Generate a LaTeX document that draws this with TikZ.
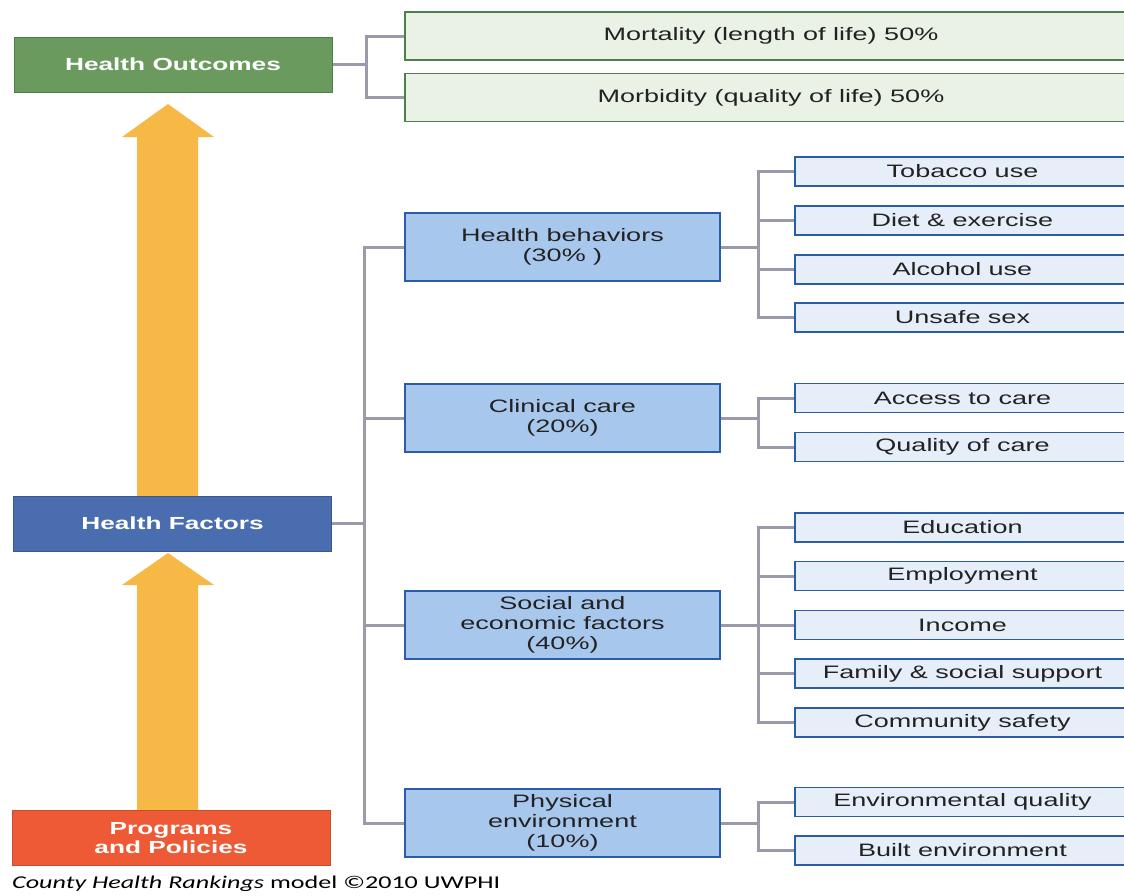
\documentclass[tikz,border=0pt]{standalone}
\usepackage{fontspec}
\setmainfont{Liberation Sans}[FakeStretch=1.5]
\newfontfamily\capfont{Carlito}[FakeStretch=1.45]
\definecolor{hogreen}{HTML}{6A9A5E}
\definecolor{hogreenline}{HTML}{4E7E4C}
\definecolor{lgfill}{HTML}{EAF2E6}
\definecolor{hfblue}{HTML}{4A6DB0}
\definecolor{ppred}{HTML}{EE5A35}
\definecolor{arrowyel}{HTML}{F6B946}
\definecolor{ltwofill}{HTML}{A8C7EC}
\definecolor{bluline}{HTML}{2B5CA8}
\definecolor{lthreefill}{HTML}{E6EEFA}
\definecolor{conngray}{HTML}{9A9AAA}
\definecolor{txt}{HTML}{222222}
\tikzset{
  x=1pt, y=-1pt,
  base/.style={rectangle, inner sep=0pt, align=center, font=\fontsize{18}{20}\selectfont},
  lone/.style={base, text=white, font=\fontsize{17.5}{20}\selectfont\bfseries, minimum width=318pt, minimum height=55pt},
  ltwo/.style={base, fill=ltwofill, draw=bluline, line width=1.6pt, text=txt, minimum width=315pt, minimum height=68pt},
  lthree/.style={base, fill=lthreefill, draw=bluline, line width=1.6pt, text=txt, minimum width=335pt, minimum height=29pt},
  lgreen/.style={base, fill=lgfill, draw=hogreenline, line width=1.4pt, text=txt, minimum width=732pt, minimum height=48pt},
  conn/.style={draw=conngray, line width=3pt},
  bigarrow/.style={fill=arrowyel, draw=none}
}
\begin{document}
\begin{tikzpicture}
\useasboundingbox (0,0) rectangle (1124,895);
% arrows
\fill[bigarrow] (168,104) -- (214,137) -- (198,137) -- (198,500) -- (137,500) -- (137,137) -- (122,137) -- cycle;
\fill[bigarrow] (168,553) -- (214,585) -- (198,585) -- (198,812) -- (137,812) -- (137,585) -- (122,585) -- cycle;
% level 1
\node[lone, fill=hogreen, draw=hogreenline, line width=1pt] (ho) at (173,64.5) {Health Outcomes};
\node[lone, fill=hfblue, draw=hfblue!80!black, line width=1pt] (hf) at (172.5,523.5) {Health Factors};
\node[lone, fill=ppred, draw=ppred!85!black, line width=1pt, font=\fontsize{17.5}{19.5}\selectfont\bfseries] (pp) at (171,838) {Programs\\and Policies};
% outcomes
\node[lgreen] (mort) at (771,36) {Mortality (length of life) 50\%};
\node[lgreen] (morb) at (771,97.5) {Morbidity (quality of life) 50\%};
% level 2
\node[ltwo] (hb) at (562.5,247) {Health behaviors\\(30\% )};
\node[ltwo] (cc) at (562.5,418) {Clinical care\\(20\%)};
\node[ltwo] (se) at (562.5,625) {Social and\\economic factors\\(40\%)};
\node[ltwo] (pe) at (562.5,823) {Physical\\environment\\(10\%)};
% level 3
\node[lthree] (t1) at (962.5,171.5) {Tobacco use};
\node[lthree] (t2) at (962.5,220.5) {Diet \& exercise};
\node[lthree] (t3) at (962.5,269.5) {Alcohol use};
\node[lthree] (t4) at (962.5,317.5) {Unsafe sex};
\node[lthree] (c1) at (962.5,398) {Access to care};
\node[lthree] (c2) at (962.5,447) {Quality of care};
\node[lthree] (s1) at (962.5,527.5) {Education};
\node[lthree] (s2) at (962.5,576) {Employment};
\node[lthree] (s3) at (962.5,625) {Income};
\node[lthree] (s4) at (962.5,673.5) {Family \& social support};
\node[lthree] (s5) at (962.5,722.5) {Community safety};
\node[lthree] (p1) at (962.5,802) {Environmental quality};
\node[lthree] (p2) at (962.5,850.5) {Built environment};
% connectors
\coordinate (j0) at (366,64.5);
\draw[conn] (ho.east) -- (j0);
\draw[conn] (j0) |- (mort.west);
\draw[conn] (j0) |- (morb.west);
\coordinate (j1) at (364,523.5);
\draw[conn] (hf.east) -- (j1);
\foreach \n in {hb,cc,se,pe} \draw[conn] (j1) |- (\n.west);
\coordinate (jhb) at (758,247);
\draw[conn] (hb.east) -- (jhb);
\foreach \n in {t1,t2,t3,t4} \draw[conn] (jhb) |- (\n.west);
\coordinate (jcc) at (758,418);
\draw[conn] (cc.east) -- (jcc);
\foreach \n in {c1,c2} \draw[conn] (jcc) |- (\n.west);
\coordinate (jse) at (758,625);
\draw[conn] (se.east) -- (jse);
\foreach \n in {s1,s2,s3,s4,s5} \draw[conn] (jse) |- (\n.west);
\coordinate (jpe) at (758,823);
\draw[conn] (pe.east) -- (jpe);
\foreach \n in {p1,p2} \draw[conn] (jpe) |- (\n.west);
% caption
\node[anchor=west, inner sep=0pt, text=black, font=\capfont\fontsize{18}{20}\selectfont] (cap) at (12,884) {\textit{County Health Rankings} model ©2010 UWPHI};
\end{tikzpicture}
\end{document}
